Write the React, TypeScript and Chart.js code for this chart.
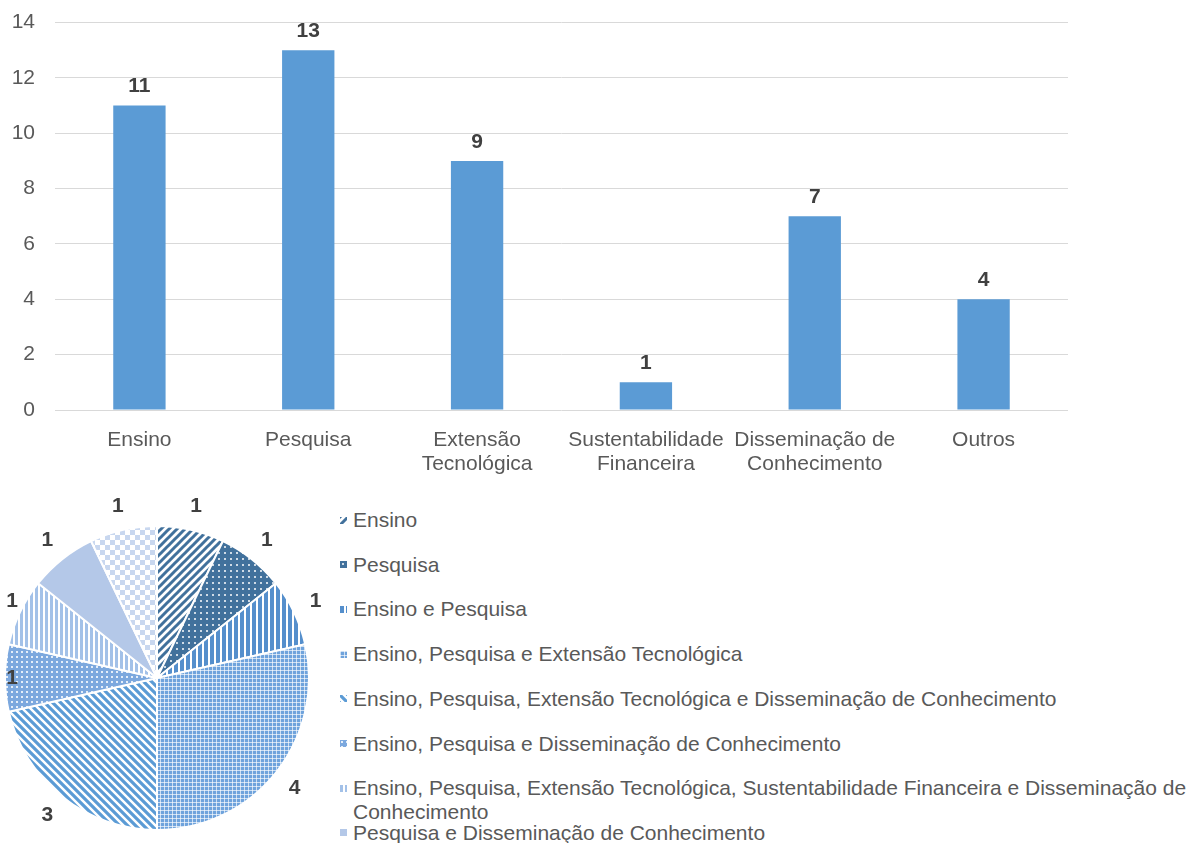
import React, { useEffect, useRef, useMemo } from 'react';
import { Chart, registerables } from 'chart.js';
Chart.register(...registerables);

const FONT = "'Liberation Sans', Arial, sans-serif";
const FS = 21;

// ---- Bar chart data ----
const barCategories: (string | string[])[] = [
  'Ensino',
  'Pesquisa',
  ['Extensão', 'Tecnológica'],
  ['Sustentabilidade', 'Financeira'],
  ['Disseminação de', 'Conhecimento'],
  'Outros',
];
const barValues = [11, 13, 9, 1, 7, 4];
const yMin = 0;
const yMax = 14;
const yStep = 2;

// ---- Pie chart data ----
const pieLabels: string[][] = [
  ['Ensino'],
  ['Pesquisa'],
  ['Ensino e Pesquisa'],
  ['Ensino, Pesquisa e Extensão Tecnológica'],
  ['Ensino, Pesquisa, Extensão Tecnológica e Disseminação de Conhecimento'],
  ['Ensino, Pesquisa e Disseminação de Conhecimento'],
  ['Ensino, Pesquisa, Extensão Tecnológica, Sustentabilidade Financeira e Disseminação de', 'Conhecimento'],
  ['Pesquisa e Disseminação de Conhecimento'],
  ['Outros'],
];
const pieValues = [1, 1, 1, 4, 3, 1, 1, 1, 1];

// ---- pattern tiles (styling) ----
type G = CanvasRenderingContext2D;
function diagUp(g: G, s: number) {
  g.beginPath();
  g.moveTo(0, s); g.lineTo(s, 0);
  g.moveTo(-s / 2, s / 2); g.lineTo(s / 2, -s / 2);
  g.moveTo(s / 2, s * 1.5); g.lineTo(s * 1.5, s / 2);
  g.stroke();
}
function diagDown(g: G, s: number) {
  g.beginPath();
  g.moveTo(0, 0); g.lineTo(s, s);
  g.moveTo(-s / 2, s / 2); g.lineTo(s / 2, s * 1.5);
  g.moveTo(s / 2, -s / 2); g.lineTo(s * 1.5, s / 2);
  g.stroke();
}
const tileSpecs: { size: number; draw: (g: G, s: number) => void }[] = [
  { size: 8, draw: (g, s) => { g.fillStyle = '#fff'; g.fillRect(0, 0, s, s); g.strokeStyle = '#41719c'; g.lineWidth = 3; diagUp(g, s); } },
  { size: 6, draw: (g, s) => { g.fillStyle = '#41719c'; g.fillRect(0, 0, s, s); g.fillStyle = 'rgba(255,255,255,0.75)'; g.fillRect(2, 2, 2, 2); } },
  { size: 6, draw: (g, s) => { g.fillStyle = '#fff'; g.fillRect(0, 0, s, s); g.fillStyle = '#558fcc'; g.fillRect(0, 0, 4, s); } },
  { size: 4, draw: (g, s) => { g.fillStyle = '#6fa3dc'; g.fillRect(0, 0, s, s); g.fillStyle = 'rgba(255,255,255,0.65)'; g.fillRect(0, 0, s, 1); g.fillRect(0, 0, 1, s); } },
  { size: 8, draw: (g, s) => { g.fillStyle = '#fff'; g.fillRect(0, 0, s, s); g.strokeStyle = '#5b9bd5'; g.lineWidth = 3.2; diagDown(g, s); } },
  { size: 5, draw: (g, s) => { g.fillStyle = '#7ca8de'; g.fillRect(0, 0, s, s); g.fillStyle = 'rgba(255,255,255,0.8)'; g.fillRect(1, 1, 2, 2); } },
  { size: 5, draw: (g, s) => { g.fillStyle = '#fff'; g.fillRect(0, 0, s, s); g.fillStyle = '#a3c1e8'; g.fillRect(0, 0, 3, s); } },
  { size: 4, draw: (g, s) => { g.fillStyle = '#b4c8e8'; g.fillRect(0, 0, s, s); } },
  { size: 10, draw: (g, s) => { g.fillStyle = '#fff'; g.fillRect(0, 0, s, s); g.fillStyle = '#c8d7ef'; g.fillRect(0, 0, 5, 5); g.fillRect(5, 5, 5, 5); } },
];
function makeTile(i: number): HTMLCanvasElement {
  const spec = tileSpecs[i];
  const c = document.createElement('canvas');
  c.width = spec.size; c.height = spec.size;
  const g = c.getContext('2d')!;
  spec.draw(g, spec.size);
  return c;
}

function BarChart() {
  const ref = useRef<HTMLCanvasElement>(null);
  useEffect(() => {
    const labelPlugin = {
      id: 'barLabels',
      afterDatasetsDraw(chart: any) {
        const ctx = chart.ctx;
        const meta = chart.getDatasetMeta(0);
        ctx.save();
        ctx.font = `bold ${FS}px ${FONT}`;
        ctx.fillStyle = '#404040';
        ctx.textAlign = 'center';
        ctx.textBaseline = 'middle';
        meta.data.forEach((bar: any, i: number) => {
          ctx.fillText(String(barValues[i]), bar.x, bar.y - 19);
        });
        ctx.restore();
      },
    };
    const chart = new Chart(ref.current!, {
      type: 'bar',
      data: {
        labels: barCategories as any,
        datasets: [{ data: barValues, backgroundColor: '#5b9bd5', categoryPercentage: 1, barPercentage: 0.31 }],
      },
      options: {
        animation: false,
        responsive: false,
        layout: { padding: { top: 4, right: 118, left: 0, bottom: 0 } },
        plugins: { legend: { display: false }, tooltip: { enabled: false } },
        scales: {
          y: {
            min: yMin, max: yMax,
            ticks: { stepSize: yStep, color: '#595959', font: { family: FONT, size: FS }, padding: 20 },
            grid: { color: '#d9d9d9', drawTicks: false, lineWidth: 1 },
            border: { display: false },
            afterFit: (s: any) => { s.width = 55; },
          },
          x: {
            ticks: { color: '#595959', font: { family: FONT, size: FS, lineHeight: 1.15 }, padding: 10, maxRotation: 0, autoSkip: false },
            grid: { display: false },
            border: { display: false },
            afterFit: (s: any) => { s.height = 70; },
          },
        },
      },
      plugins: [labelPlugin],
    });
    return () => chart.destroy();
  }, []);
  return <canvas ref={ref} width={1186} height={490} style={{ position: 'absolute', left: 0, top: -10 }} />;
}

function PieChart() {
  const ref = useRef<HTMLCanvasElement>(null);
  useEffect(() => {
    const canvas = ref.current!;
    const ctx0 = canvas.getContext('2d')!;
    const patterns = pieValues.map((_, i) => ctx0.createPattern(makeTile(i), 'repeat'));
    const labelPlugin = {
      id: 'pieLabels',
      afterDatasetsDraw(chart: any) {
        const ctx = chart.ctx;
        const meta = chart.getDatasetMeta(0);
        ctx.save();
        ctx.font = `bold ${FS}px ${FONT}`;
        ctx.fillStyle = '#404040';
        ctx.textAlign = 'center';
        ctx.textBaseline = 'middle';
        meta.data.forEach((arc: any, i: number) => {
          const p = arc.getProps(['x', 'y', 'startAngle', 'endAngle', 'outerRadius'], true);
          const mid = (p.startAngle + p.endAngle) / 2;
          const d = p.outerRadius + 24;
          let lx = p.x + Math.cos(mid) * d;
          const ly = p.y + Math.sin(mid) * d;
          if (lx < 12) lx = 12;
          ctx.fillText(String(pieValues[i]), lx, ly);
        });
        ctx.restore();
      },
    };
    const chart = new Chart(canvas, {
      type: 'pie',
      data: {
        labels: pieLabels.map((l) => l.join(' ')),
        datasets: [{ data: pieValues, backgroundColor: patterns as any, borderColor: '#ffffff', borderWidth: 2 }],
      },
      options: {
        animation: false,
        responsive: false,
        layout: { padding: { left: 4, top: 35, right: 20, bottom: 12 } },
        plugins: { legend: { display: false }, tooltip: { enabled: false } },
      },
      plugins: [labelPlugin],
    });
    return () => chart.destroy();
  }, []);
  return <canvas ref={ref} width={330} height={353} style={{ position: 'absolute', left: 0, top: 490 }} />;
}

function Legend() {
  const urls = useMemo(() => pieValues.map((_, i) => makeTile(i).toDataURL()), []);
  return (
    <>
      {pieLabels.map((lines, i) => {
        const cy = 520 + i * 44.7;
        return (
          <div key={i}>
            <div style={{ position: 'absolute', left: 340, top: cy - 3.5, width: 7, height: 7, backgroundImage: `url(${urls[i]})` }} />
            <div style={{ position: 'absolute', left: 353, top: cy - 12, lineHeight: '24px', fontSize: FS, fontFamily: FONT, color: '#595959', whiteSpace: 'nowrap' }}>
              {lines.map((t, j) => (<div key={j}>{t}</div>))}
            </div>
          </div>
        );
      })}
    </>
  );
}

export default function App() {
  return (
    <div style={{ position: 'absolute', left: 0, top: 0, width: 1186, height: 843, overflow: 'hidden', background: '#fff' }}>
      <BarChart />
      <PieChart />
      <Legend />
    </div>
  );
}
